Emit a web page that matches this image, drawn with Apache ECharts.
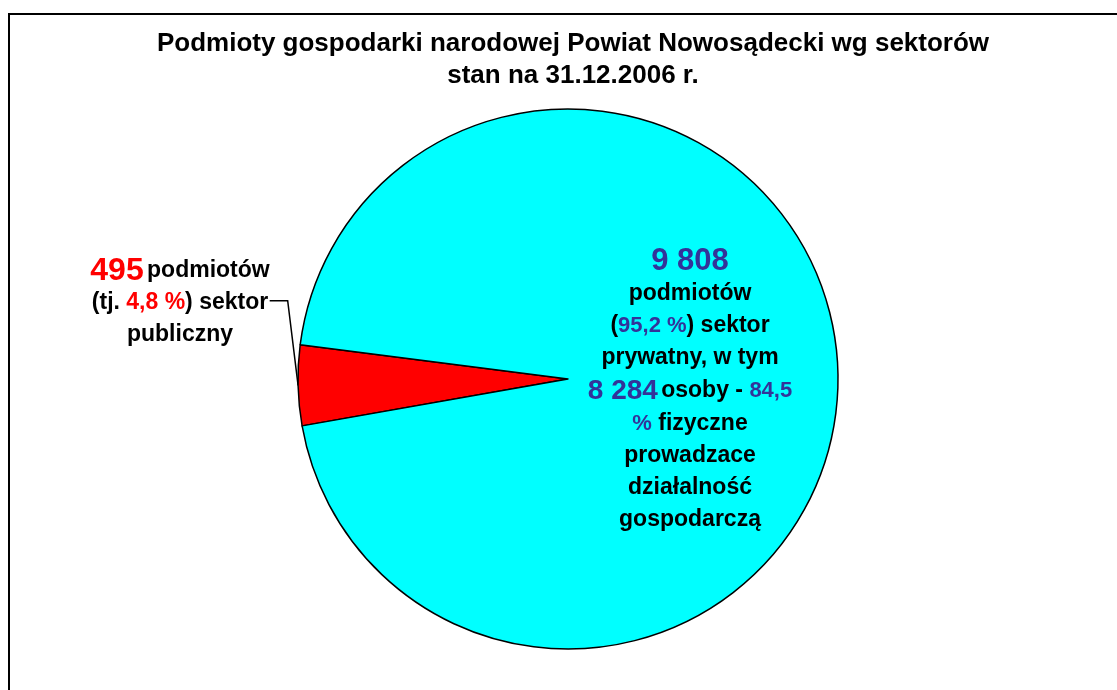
<!DOCTYPE html>
<html>
<head>
<meta charset="utf-8">
<script src="https://cdn.jsdelivr.net/npm/echarts@6/dist/echarts.min.js"></script>
<style>
  html, body { margin: 0; padding: 0; background: #fff; }
  #chartPie { width: 1117px; height: 690px; }
</style>
</head>
<body>
<div id="chartPie"></div>
<script>
// dane
const titleLines = ['Podmioty gospodarki narodowej Powiat Nowosądecki wg sektorów', 'stan na 31.12.2006 r.'];
const sectors = ['publiczny', 'prywatny'];
const counts = [495, 9808];
const shares = ['4,8', '95,2'];
const naturalPersons = 8284;
const naturalShare = '84,5';

function fmt(n) {
  return String(n).replace(/\B(?=(\d{3})+(?!\d))/g, ' ');
}

const chartPie = echarts.init(document.getElementById('chartPie'));

const font = 'Liberation Sans, Arial, sans-serif';
const txt = { fontFamily: font, fontWeight: 'bold', fontSize: 23, color: '#000', lineHeight: 32 };

let option = {
  animation: false,
  backgroundColor: '#fff',
  title: {
    text: titleLines.join('\n'),
    left: 568,
    top: 23,
    textAlign: 'center',
    textStyle: { fontFamily: font, fontWeight: 'bold', fontSize: 26, color: '#000', lineHeight: 32 }
  },
  graphic: [{
    type: 'rect',
    shape: { x: 9, y: 14, width: 1200, height: 800 },
    style: { fill: 'none', stroke: '#000', lineWidth: 2 },
    silent: true
  }],
  series: [{
    type: 'pie',
    center: [568, 379],
    radius: 270,
    startAngle: 190,
    clockwise: true,
    avoidLabelOverlap: false,
    emphasis: { disabled: true },
    itemStyle: { borderColor: '#000', borderWidth: 1.5 },
    label: {
      show: true,
      position: 'outside',
      align: 'center',
      rich: {
        b: txt,
        rnum: { fontFamily: font, fontWeight: 'bold', fontSize: 32, color: '#ff0000', lineHeight: 32 },
        rpct: { fontFamily: font, fontWeight: 'bold', fontSize: 23, color: '#ff0000', lineHeight: 32 },
        bnum: { fontFamily: font, fontWeight: 'bold', fontSize: 31, color: '#333399', lineHeight: 34 },
        bnum2: { fontFamily: font, fontWeight: 'bold', fontSize: 28, color: '#333399', lineHeight: 34 },
        bpct: { fontFamily: font, fontWeight: 'bold', fontSize: 22, color: '#333399', lineHeight: 32 }
      }
    },
    labelLine: {
      show: true,
      length: 10,
      length2: 18,
      lineStyle: { color: '#000', width: 1.5 }
    },
    labelLayout: function (p) {
      if (p.dataIndex === 0) {
        return { x: 180, y: 303, align: 'center', verticalAlign: 'middle' };
      }
      return { x: 690, y: 390, align: 'center', verticalAlign: 'middle' };
    },
    data: [
      {
        name: sectors[0],
        value: counts[0],
        itemStyle: { color: '#ff0000' },
        label: {
          formatter: '{rnum|' + fmt(counts[0]) + '} {b|podmiotów}\n' +
            '{b|(tj. }{rpct|' + shares[0] + ' %}{b|) sektor}\n' +
            '{b|' + sectors[0] + '}'
        }
      },
      {
        name: sectors[1],
        value: counts[1],
        itemStyle: { color: '#00ffff' },
        label: {
          position: 'inside',
          formatter: '{bnum|' + fmt(counts[1]) + '}\n' +
            '{b|podmiotów}\n' +
            '{b|(}{bpct|' + shares[1] + ' %}{b|) sektor}\n' +
            '{b|' + sectors[1] + ', w tym}\n' +
            '{bnum2|' + fmt(naturalPersons) + '} {b|osoby - }{bpct|' + naturalShare + '}\n' +
            '{bpct|%}{b| fizyczne}\n' +
            '{b|prowadzace}\n' +
            '{b|działalność}\n' +
            '{b|gospodarczą}'
        },
        labelLine: { show: false }
      }
    ]
  }]
};

chartPie.setOption(option);
</script>
</body>
</html>
